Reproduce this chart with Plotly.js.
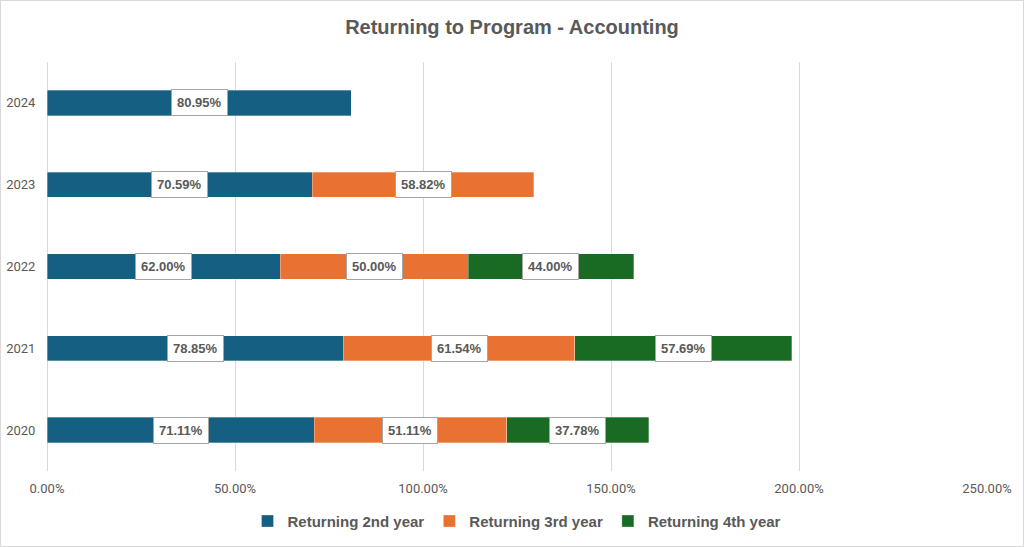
<!DOCTYPE html>
<html>
<head>
<meta charset="utf-8">
<script src="https://cdn.plot.ly/plotly-3.0.1.min.js"></script>
<style>
  html, body { margin: 0; padding: 0; background: #fff; }
  #chart { width: 1022px; height: 545px; border: 1px solid #d9d9d9; }
</style>
</head>
<body>
<div id="chart"></div>
<script>
// Cohort years (bottom to top) and retention rates in percent
const years = ['2020', '2021', '2022', '2023', '2024'];
const seriesNames = ['Returning 2nd year', 'Returning 3rd year', 'Returning 4th year'];
const second = [71.11, 78.85, 62.00, 70.59, 80.95];
const third  = [51.11, 61.54, 50.00, 58.82, null];
const fourth = [37.78, 57.69, 44.00, null, null];
const colors = ['#156082', '#E97132', '#196B24'];
const xTicks = [0, 50, 100, 150, 200, 250];

const seriesValues = [second, third, fourth];
const gray = '#595959';
const labelFont = 'Liberation Sans, Arial, sans-serif';

const traces = seriesValues.map((vals, i) => ({
  type: 'bar',
  orientation: 'h',
  name: seriesNames[i],
  y: years,
  x: vals,
  marker: { color: colors[i], line: { color: 'rgba(255,255,255,0.6)', width: 0.5 } },
  hoverinfo: 'skip'
}));

// Value labels: boxed text centred on each stacked segment
// (y given as the category index so the category axis places it on its bar)
const annotations = [];
years.forEach((yr, j) => {
  let base = 0;
  seriesValues.forEach(vals => {
    const v = vals[j];
    if (v === null || v === undefined) return;
    annotations.push({
      x: base + v / 2,
      y: j,
      xref: 'x',
      yref: 'y',
      text: v.toFixed(2) + '%',
      showarrow: false,
      font: { family: labelFont, size: 13, color: gray, weight: 'bold' },
      bgcolor: '#ffffff',
      bordercolor: '#a6a6a6',
      borderwidth: 1,
      borderpad: 5
    });
    base += v;
  });
});

const layout = {
  width: 1022,
  height: 545,
  paper_bgcolor: '#ffffff',
  plot_bgcolor: '#ffffff',
  margin: { l: 46, r: 36, t: 61, b: 75, autoexpand: false },
  barmode: 'stack',
  bargap: 0.69,
  title: {
    text: '<b>Returning to Program - Accounting</b>',
    font: { family: 'Liberation Sans Narrow, Arial Narrow, Liberation Sans, sans-serif', size: 20, color: gray },
    x: 0.5,
    xanchor: 'center',
    y: 0.952,
    yanchor: 'middle'
  },
  xaxis: {
    range: [0, 250],
    tickvals: xTicks,
    ticktext: xTicks.map(t => t.toFixed(2) + '%'),
    showgrid: true,
    gridcolor: '#d9d9d9',
    gridwidth: 1,
    zeroline: true,
    zerolinecolor: '#d9d9d9',
    zerolinewidth: 1,
    showline: false,
    ticks: 'outside',
    ticklen: 5,
    tickcolor: 'rgba(0,0,0,0)',
    tickfont: { family: 'Roboto, sans-serif', size: 13, color: gray },
    fixedrange: true
  },
  yaxis: {
    type: 'category',
    categoryorder: 'array',
    categoryarray: years,
    range: [-0.5, years.length - 0.5],
    autorange: false,
    showgrid: false,
    showline: false,
    ticks: 'outside',
    ticklen: 8,
    tickcolor: 'rgba(0,0,0,0)',
    tickfont: { family: 'Roboto, sans-serif', size: 13, color: gray },
    fixedrange: true
  },
  legend: {
    orientation: 'h',
    x: 0.5,
    xanchor: 'center',
    y: -0.123,
    yanchor: 'middle',
    font: { family: labelFont, size: 15, color: gray, weight: 'bold' },
    traceorder: 'normal',
    itemwidth: 14
  },
  annotations: annotations,
  showlegend: true
};

Plotly.newPlot('chart', traces, layout, { displayModeBar: false, staticPlot: true });
</script>
</body>
</html>
